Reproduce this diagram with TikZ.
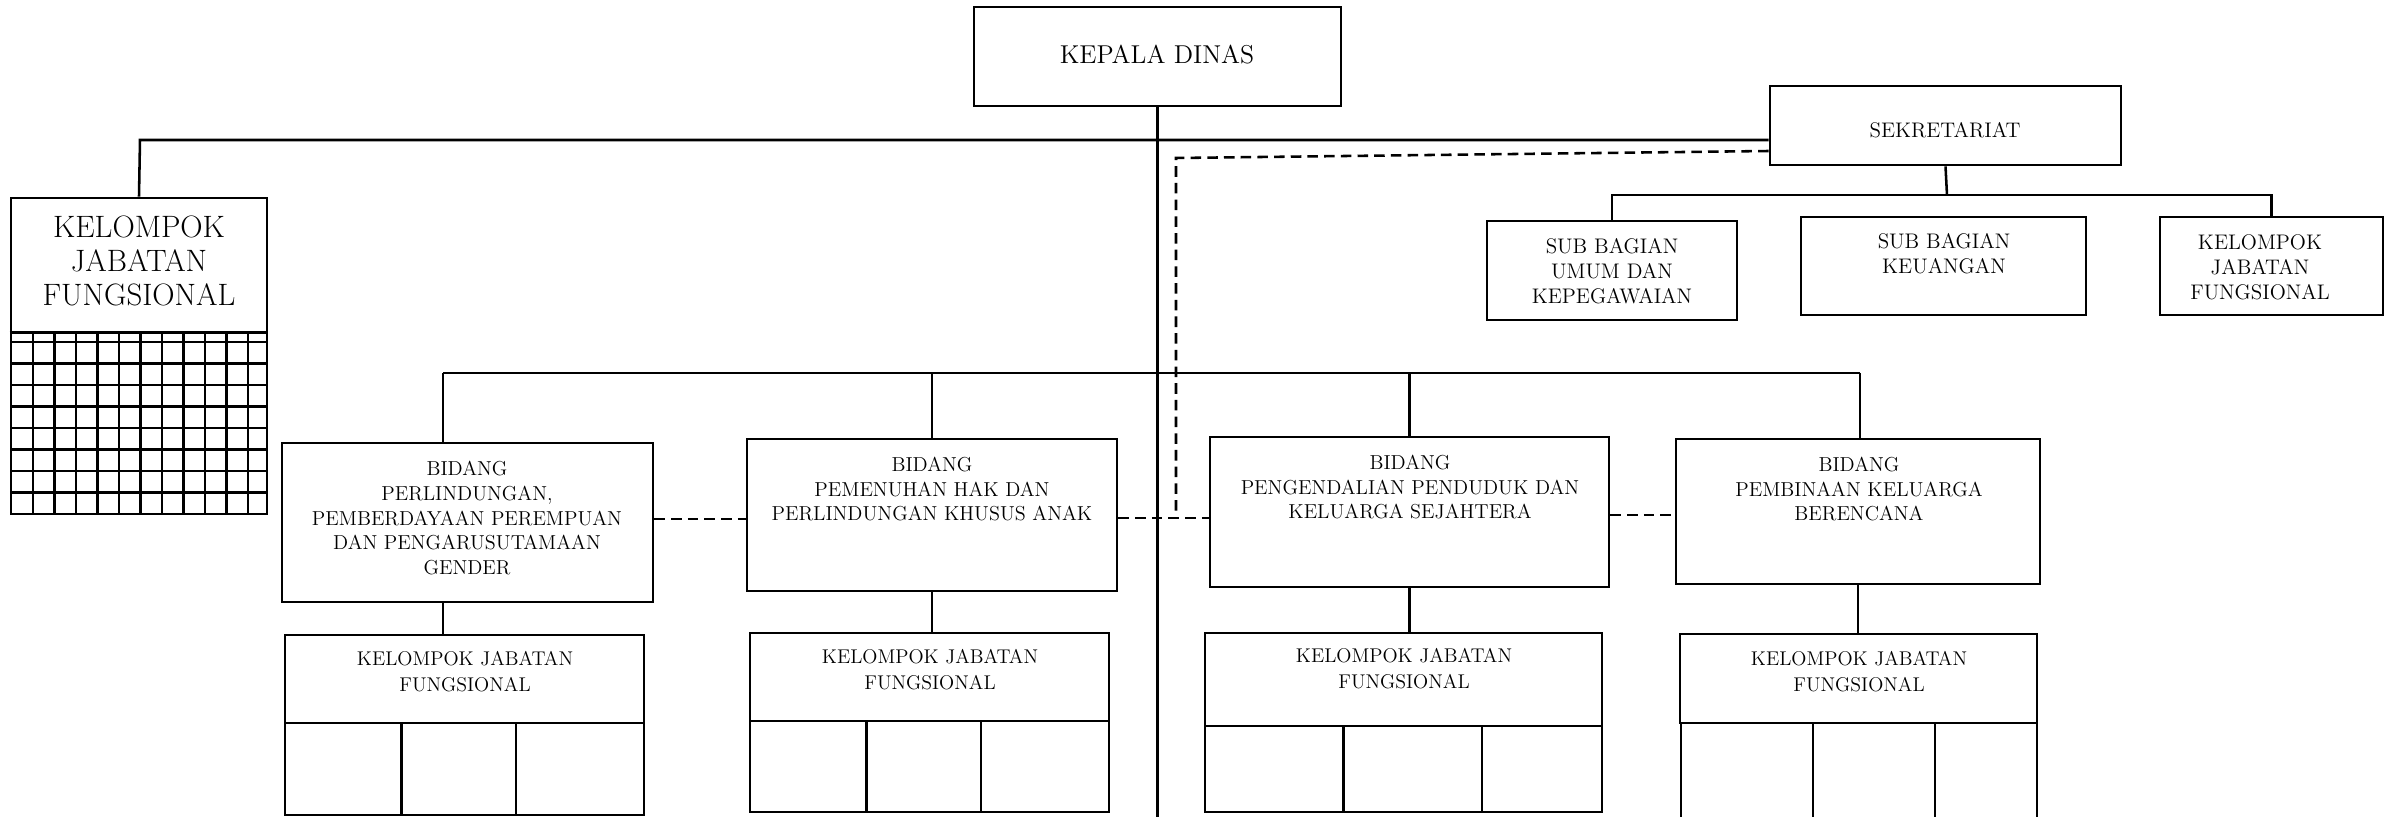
\documentclass[tikz,border=0pt]{standalone}
\usepackage{tikz}
\usetikzlibrary{fit,positioning}
\tikzset{
  box/.style={draw,line width=1.6pt,inner sep=0pt},
  ln/.style={line width=1.45pt},
  dsh/.style={line width=1.45pt,dash pattern=on 6pt off 3.5pt},
  gr/.style={line width=1.4pt},
  txt/.style={align=center,inner sep=0pt},
  tbid/.style={txt,font=\fontsize{11.5}{14.2}\selectfont},
  tsub/.style={txt,font=\fontsize{12}{14.3}\selectfont},
  tkjf/.style={txt,font=\fontsize{11.3}{14.8}\selectfont}
}

\begin{document}
\begin{tikzpicture}[x=0.02cm,y=-0.02cm]
\useasboundingbox (0,0) rectangle (2387,817);

% pimpinan dan sekretariat
\node[box,fit={(974,7)(1341,106)}] (kadis) {};
\node[txt,font=\fontsize{14.7}{17}\selectfont] (kadist) at (1157,55) {KEPALA DINAS};
\node[box,fit={(1770,86)(2121,165)}] (sek) {};
\node[tsub] (sekt) at (1945,130) {SEKRETARIAT};
\node[box,fit={(1487,221)(1737,320)}] (sub1) {};
\node[tsub] (sub1t) at (1612,271) {SUB BAGIAN\\UMUM DAN\\KEPEGAWAIAN};
\node[box,fit={(1801,217)(2086,315)}] (sub2) {};
\node[tsub] (sub2t) at (1944,254) {SUB BAGIAN\\KEUANGAN};
\node[box,fit={(2160,217)(2383,315)}] (kjfS) {};
\node[tsub] (kjfSt) at (2260,267) {KELOMPOK\\JABATAN\\FUNGSIONAL};

% kelompok jabatan fungsional kiri
\node[box,fit={(11,198)(267,514)}] (kjfL) {};
\node[txt,font=\fontsize{17.6}{19.4}\selectfont] (kjfLt) at (139,261) {KELOMPOK\\JABATAN\\FUNGSIONAL};
\draw[ln] (kjfL.west |- 0,332.5) -- (kjfL.east |- 0,332.5);
\foreach \gx in {1,...,11}
  \draw[gr] ({11.7+21.5*\gx},332.5) -- ({11.7+21.5*\gx},514);
\foreach \gy in {0,...,7}
  \draw[gr] (11,{342+21.5*\gy}) -- (267,{342+21.5*\gy});

% bidang
\node[box,fit={(282,443)(653,602)}] (b1) {};
\node[tbid] (b1t) at (467,518) {BIDANG\\PERLINDUNGAN,\\PEMBERDAYAAN PEREMPUAN\\DAN PENGARUSUTAMAAN\\GENDER};
\node[box,fit={(747,439)(1117,591)}] (b2) {};
\node[tbid] (b2t) at (932,489) {BIDANG\\PEMENUHAN HAK DAN\\PERLINDUNGAN KHUSUS ANAK};
\node[box,fit={(1210,437)(1609,587)}] (b3) {};
\node[tbid] (b3t) at (1410,487) {BIDANG\\PENGENDALIAN PENDUDUK DAN\\KELUARGA SEJAHTERA};
\node[box,fit={(1676,439)(2040,584)}] (b4) {};
\node[tbid] (b4t) at (1859,489) {BIDANG\\PEMBINAAN KELUARGA\\BERENCANA};

% kelompok jabatan fungsional bidang
\node[box,fit={(285,635)(644,723)}] (k1) {};
\node[tkjf] (k1t) at (465,672) {KELOMPOK JABATAN\\FUNGSIONAL};
\node[box,fit={(285,723)(644,815)}] (k1c) {};
\foreach \dx in {401.5,516} \draw[box] (\dx,723) -- (\dx,815);
\node[box,fit={(750,633)(1109,721)}] (k2) {};
\node[tkjf] (k2t) at (930,670) {KELOMPOK JABATAN\\FUNGSIONAL};
\node[box,fit={(750,721)(1109,812)}] (k2c) {};
\foreach \dx in {866.5,981} \draw[box] (\dx,721) -- (\dx,812);
\node[box,fit={(1205,633)(1602,726)}] (k3) {};
\node[tkjf] (k3t) at (1404,669) {KELOMPOK JABATAN\\FUNGSIONAL};
\node[box,fit={(1205,726)(1602,812)}] (k3c) {};
\foreach \dx in {1343.5,1482} \draw[box] (\dx,726) -- (\dx,812);
\node[box,fit={(1680,634)(2037,723)}] (k4) {};
\node[tkjf] (k4t) at (1859,672) {KELOMPOK JABATAN\\FUNGSIONAL};
\foreach \dx in {1681,1813,1935,2037} \draw[box] (\dx,723) -- (\dx,817);

% garis komando
\coordinate (bot) at (1156,817);
\coordinate (topL) at (140,140);
\coordinate (sekbar) at (1947,195);
\coordinate (barL) at (443,373);
\coordinate (barR) at (1860,373);
\draw[ln] (kadis.south) -- (kadis.south |- bot);
\draw[ln] (kjfL.north) -- (topL) -- (topL -| sek.west);
\draw[ln] (sek.south) -- (sekbar);
\draw[ln] (sub1.north) |- (sekbar) -| (kjfS.north);
\draw[ln] (barL) -- (barR);
\draw[ln] (barL) -- (barL |- b1.north);
\draw[ln] (b2.north) -- (b2.north |- barL);
\draw[ln] (b3.north) -- (b3.north |- barL);
\draw[ln] (barR) -- (barR |- b4.north);
\draw[ln] (barL |- b1.south) -- (barL |- k1.north);
\draw[ln] (b2.south) -- (b2.south |- k2.north);
\draw[ln] (b3.south) -- (b3.south |- k3.north);
\draw[ln] (b4.south) -- (b4.south |- k4.north);

% garis koordinasi
\coordinate (dA) at (1176,158);
\coordinate (dB) at (1176,511);
\draw[dsh] (sek.west |- 0,151) -- (dA) -- (dB);
\draw[dsh] (b1.east |- 0,519) -- (b2.west |- 0,519);
\draw[dsh] (b2.east |- 0,518) -- (b3.west |- 0,518);
\draw[dsh] (b3.east |- 0,515) -- (b4.west |- 0,515);
\end{tikzpicture}
\end{document}
